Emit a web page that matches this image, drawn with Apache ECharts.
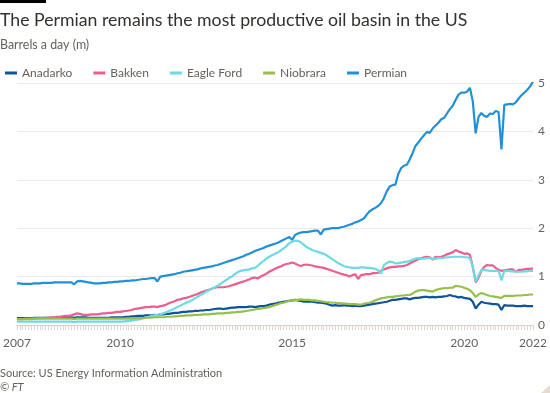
<!DOCTYPE html>
<html>
<head>
<meta charset="utf-8">
<script src="https://cdn.jsdelivr.net/npm/echarts@6/dist/echarts.min.js"></script>
<style>
html,body{margin:0;padding:0;background:#ffffff;}
#chart{width:550px;height:393px;}
</style>
</head>
<body>
<div id="chart"></div>
<script>
// Monthly data, Jan 2007 .. Jan 2022 (million barrels a day)
const seriesNames = ['Anadarko', 'Bakken', 'Eagle Ford', 'Niobrara', 'Permian'];
const seriesColors = ['#0f5499', '#eb5e8d', '#6fd9e4', '#96c04b', '#2190d6'];
const tickYears = ['2007', '2010', '2015', '2020', '2022'];
const yTicks = [0, 1, 2, 3, 4, 5];

const anadarko = [
  0.14,0.14,0.14,0.14,0.14,0.14,0.15,0.15,0.15,0.15,0.15,0.15,
  0.15,0.15,0.15,0.16,0.16,0.16,0.16,0.16,0.15,0.16,0.16,0.16,
  0.16,0.15,0.15,0.15,0.15,0.15,0.15,0.15,0.15,0.16,0.16,0.16,
  0.16,0.16,0.17,0.17,0.18,0.18,0.19,0.19,0.19,0.20,0.20,0.20,
  0.21,0.20,0.22,0.22,0.23,0.23,0.24,0.25,0.25,0.26,0.27,0.27,
  0.28,0.28,0.29,0.29,0.30,0.30,0.31,0.31,0.32,0.33,0.34,0.34,
  0.33,0.34,0.35,0.36,0.36,0.37,0.37,0.37,0.37,0.38,0.38,0.37,
  0.38,0.39,0.39,0.40,0.42,0.43,0.44,0.46,0.47,0.48,0.49,0.50,
  0.51,0.52,0.51,0.50,0.48,0.48,0.48,0.48,0.47,0.46,0.46,0.45,
  0.44,0.42,0.40,0.41,0.40,0.40,0.41,0.40,0.40,0.39,0.40,0.39,
  0.39,0.40,0.41,0.42,0.43,0.44,0.45,0.46,0.47,0.48,0.50,0.52,
  0.52,0.53,0.54,0.55,0.55,0.53,0.55,0.56,0.56,0.57,0.58,0.58,
  0.57,0.58,0.57,0.58,0.58,0.59,0.60,0.62,0.60,0.59,0.57,0.58,
  0.56,0.55,0.54,0.48,0.34,0.42,0.48,0.46,0.45,0.44,0.43,0.43,
  0.42,0.31,0.41,0.40,0.40,0.40,0.39,0.39,0.39,0.40,0.39,0.39,
  0.39
];

const bakken = [
  0.12,0.12,0.12,0.13,0.13,0.13,0.13,0.14,0.14,0.14,0.15,0.15,
  0.16,0.16,0.17,0.17,0.18,0.19,0.19,0.20,0.22,0.24,0.23,0.21,
  0.21,0.21,0.22,0.22,0.22,0.23,0.24,0.24,0.25,0.25,0.26,0.27,
  0.27,0.28,0.29,0.30,0.31,0.33,0.34,0.35,0.36,0.37,0.37,0.38,
  0.38,0.37,0.39,0.40,0.42,0.45,0.47,0.49,0.52,0.53,0.55,0.56,
  0.58,0.60,0.62,0.64,0.67,0.69,0.71,0.73,0.75,0.77,0.78,0.78,
  0.78,0.79,0.80,0.82,0.84,0.86,0.88,0.90,0.92,0.94,0.97,0.98,
  0.96,1.00,1.03,1.06,1.10,1.13,1.16,1.19,1.21,1.24,1.26,1.27,
  1.29,1.27,1.24,1.22,1.24,1.25,1.24,1.23,1.21,1.20,1.19,1.18,
  1.16,1.14,1.12,1.10,1.08,1.06,1.04,1.03,1.00,1.03,1.05,0.95,
  1.03,1.04,1.05,1.05,1.07,1.07,1.08,1.12,1.15,1.17,1.19,1.20,
  1.20,1.21,1.21,1.22,1.24,1.27,1.30,1.33,1.36,1.38,1.40,1.41,
  1.40,1.35,1.41,1.40,1.41,1.43,1.46,1.48,1.50,1.55,1.52,1.50,
  1.47,1.48,1.45,1.20,0.88,0.98,1.12,1.20,1.24,1.23,1.23,1.18,
  1.14,1.12,1.13,1.14,1.15,1.15,1.10,1.14,1.14,1.15,1.16,1.16,
  1.17
];

const eagleFord = [
  0.07,0.07,0.07,0.07,0.07,0.07,0.07,0.07,0.07,0.07,0.07,0.07,
  0.07,0.07,0.07,0.07,0.07,0.07,0.07,0.07,0.06,0.07,0.07,0.07,
  0.07,0.07,0.07,0.07,0.07,0.07,0.07,0.07,0.07,0.07,0.07,0.07,
  0.07,0.07,0.08,0.08,0.09,0.10,0.11,0.12,0.14,0.16,0.17,0.19,
  0.20,0.21,0.22,0.24,0.26,0.29,0.31,0.34,0.37,0.40,0.43,0.46,
  0.48,0.51,0.55,0.58,0.62,0.65,0.69,0.72,0.75,0.78,0.81,0.85,
  0.89,0.93,0.97,1.00,1.05,1.09,1.12,1.13,1.14,1.15,1.17,1.18,
  1.22,1.28,1.32,1.37,1.41,1.44,1.47,1.50,1.54,1.58,1.63,1.69,
  1.72,1.74,1.74,1.71,1.66,1.61,1.58,1.55,1.53,1.51,1.49,1.47,
  1.44,1.40,1.36,1.32,1.28,1.25,1.22,1.20,1.19,1.18,1.18,1.18,
  1.19,1.19,1.18,1.18,1.17,1.16,1.13,1.06,1.24,1.28,1.31,1.30,
  1.27,1.28,1.29,1.30,1.31,1.32,1.35,1.37,1.38,1.37,1.37,1.38,
  1.39,1.36,1.37,1.38,1.38,1.39,1.40,1.40,1.41,1.41,1.41,1.41,
  1.40,1.40,1.38,1.20,0.90,1.02,1.14,1.14,1.13,1.12,1.12,1.12,
  1.12,0.92,1.12,1.12,1.11,1.11,1.10,1.10,1.10,1.11,1.11,1.12,
  1.12
];

const niobrara = [
  0.12,0.12,0.12,0.12,0.12,0.12,0.13,0.13,0.13,0.13,0.13,0.13,
  0.13,0.13,0.13,0.13,0.13,0.13,0.13,0.13,0.12,0.13,0.13,0.13,
  0.13,0.13,0.13,0.13,0.13,0.13,0.13,0.13,0.13,0.13,0.13,0.13,
  0.13,0.13,0.13,0.13,0.13,0.14,0.14,0.14,0.14,0.15,0.15,0.15,
  0.16,0.16,0.16,0.16,0.17,0.17,0.17,0.18,0.18,0.19,0.19,0.20,
  0.20,0.20,0.21,0.21,0.21,0.22,0.22,0.22,0.23,0.23,0.24,0.24,
  0.24,0.25,0.25,0.26,0.26,0.27,0.27,0.28,0.29,0.30,0.31,0.32,
  0.33,0.34,0.35,0.36,0.37,0.39,0.41,0.43,0.45,0.46,0.48,0.50,
  0.51,0.52,0.52,0.53,0.52,0.52,0.52,0.51,0.51,0.50,0.49,0.48,
  0.47,0.47,0.46,0.46,0.45,0.45,0.44,0.44,0.43,0.43,0.43,0.42,
  0.42,0.44,0.45,0.46,0.48,0.51,0.53,0.55,0.56,0.57,0.58,0.58,
  0.59,0.60,0.61,0.61,0.62,0.62,0.65,0.69,0.71,0.72,0.72,0.71,
  0.70,0.69,0.72,0.74,0.75,0.76,0.76,0.77,0.77,0.81,0.80,0.79,
  0.77,0.75,0.72,0.66,0.58,0.63,0.66,0.64,0.62,0.60,0.59,0.58,
  0.57,0.56,0.60,0.60,0.60,0.60,0.61,0.61,0.61,0.62,0.62,0.63,
  0.63
];

const permian = [
  0.86,0.86,0.85,0.85,0.85,0.85,0.86,0.86,0.86,0.87,0.87,0.87,
  0.87,0.88,0.88,0.88,0.88,0.88,0.88,0.88,0.84,0.90,0.91,0.90,
  0.89,0.88,0.87,0.86,0.86,0.86,0.87,0.87,0.88,0.88,0.89,0.89,
  0.90,0.90,0.91,0.91,0.92,0.92,0.93,0.94,0.95,0.95,0.96,0.97,
  0.97,0.90,1.00,1.01,1.02,1.03,1.04,1.05,1.07,1.08,1.10,1.11,
  1.12,1.13,1.14,1.15,1.17,1.18,1.19,1.20,1.21,1.23,1.24,1.26,
  1.28,1.30,1.32,1.34,1.36,1.38,1.40,1.42,1.45,1.47,1.50,1.53,
  1.55,1.57,1.59,1.62,1.64,1.66,1.68,1.70,1.73,1.76,1.79,1.82,
  1.76,1.86,1.89,1.91,1.92,1.92,1.93,1.94,1.95,1.95,1.87,1.97,
  1.98,1.99,2.00,2.00,2.00,2.02,2.03,2.05,2.07,2.09,2.12,2.14,
  2.17,2.20,2.28,2.35,2.39,2.42,2.46,2.52,2.62,2.76,2.86,2.89,
  2.90,3.12,3.24,3.29,3.31,3.42,3.55,3.70,3.77,3.85,3.92,3.99,
  3.97,4.06,4.12,4.18,4.25,4.28,4.37,4.46,4.53,4.65,4.76,4.80,
  4.80,4.82,4.90,4.62,3.96,4.30,4.38,4.32,4.30,4.37,4.36,4.42,
  4.40,3.63,4.55,4.56,4.57,4.56,4.60,4.68,4.75,4.80,4.86,4.93,
  5.03
];

const seriesValues = [anadarko, bakken, eagleFord, niobrara, permian];

// Month categories
const months = [];
for (let y = 2007; y <= 2022; y++) {
  for (let m = 1; m <= 12; m++) {
    if (y === 2022 && m > 1) break;
    months.push(y + '-' + (m < 10 ? '0' + m : m));
  }
}

const FONT = 'Lato, "Noto Sans", sans-serif';
const GREY = '#66605c';

const chart = echarts.init(document.getElementById('chart'), null, {renderer: 'canvas'});
chart.setOption({
  animation: false,
  backgroundColor: '#ffffff',
  textStyle: {fontFamily: FONT},
  graphic: [
    {type: 'rect', left: 0, top: 0, shape: {width: 46, height: 3}, style: {fill: '#000000'}},
    {type: 'text', x: 0, y: 20, style: {text: 'The Permian remains the most productive oil basin in the US', fontSize: 17.7, fontFamily: FONT, fill: '#33302e', verticalAlign: 'middle'}},
    {type: 'text', x: 0, y: 45, style: {text: 'Barrels a day (m)', fontSize: 12.4, fontFamily: FONT, fill: GREY, verticalAlign: 'middle'}},
    {type: 'text', x: 0, y: 373, style: {text: 'Source: US Energy Information Administration', fontSize: 11, fontFamily: FONT, fill: GREY, verticalAlign: 'middle'}},
    {type: 'text', x: 0, y: 387, style: {text: '\u00a9 FT', fontSize: 11, fontStyle: 'italic', fontFamily: FONT, fill: GREY, verticalAlign: 'middle'}},
    {type: 'polygon', shape: {points: [[550, 385], [550, 393], [541, 393]]}, style: {fill: '#e6dbd1'}}
  ],
  legend: {
    left: 0, top: 62,
    itemWidth: 12, itemHeight: 3, itemGap: 21,
    icon: 'rect',
    data: seriesNames,
    textStyle: {color: GREY, fontSize: 12, fontFamily: FONT}
  },
  grid: {left: 14, right: 17, top: 83, bottom: 68, containLabel: false},
  xAxis: {
    type: 'category',
    data: months,
    boundaryGap: false,
    axisLine: {show: true, lineStyle: {color: '#d9cfc5', width: 1}},
    axisTick: {show: true, interval: 0, length: 5, lineStyle: {color: '#ddd5cd'}},
    axisLabel: {
      interval: function (i, v) { return v.slice(5) === '01' && tickYears.indexOf(v.slice(0, 4)) >= 0; },
      formatter: function (v) { return v.slice(0, 4); },
      color: GREY, fontSize: 12, margin: 12, fontFamily: FONT
    },
    splitLine: {show: false}
  },
  yAxis: {
    type: 'value',
    position: 'right',
    min: yTicks[0], max: yTicks[yTicks.length - 1], interval: 1,
    axisLine: {show: false},
    axisTick: {show: false},
    axisLabel: {color: GREY, fontSize: 12, margin: 5, fontFamily: FONT},
    splitLine: {lineStyle: {color: '#efe9e3', width: 1}}
  },
  series: seriesNames.map(function (name, i) {
    return {
      name: name,
      type: 'line',
      data: seriesValues[i],
      showSymbol: false,
      symbol: 'none',
      color: seriesColors[i],
      lineStyle: {width: 2.2, color: seriesColors[i]},
      emphasis: {disabled: true}
    };
  })
});
</script>
</body>
</html>
